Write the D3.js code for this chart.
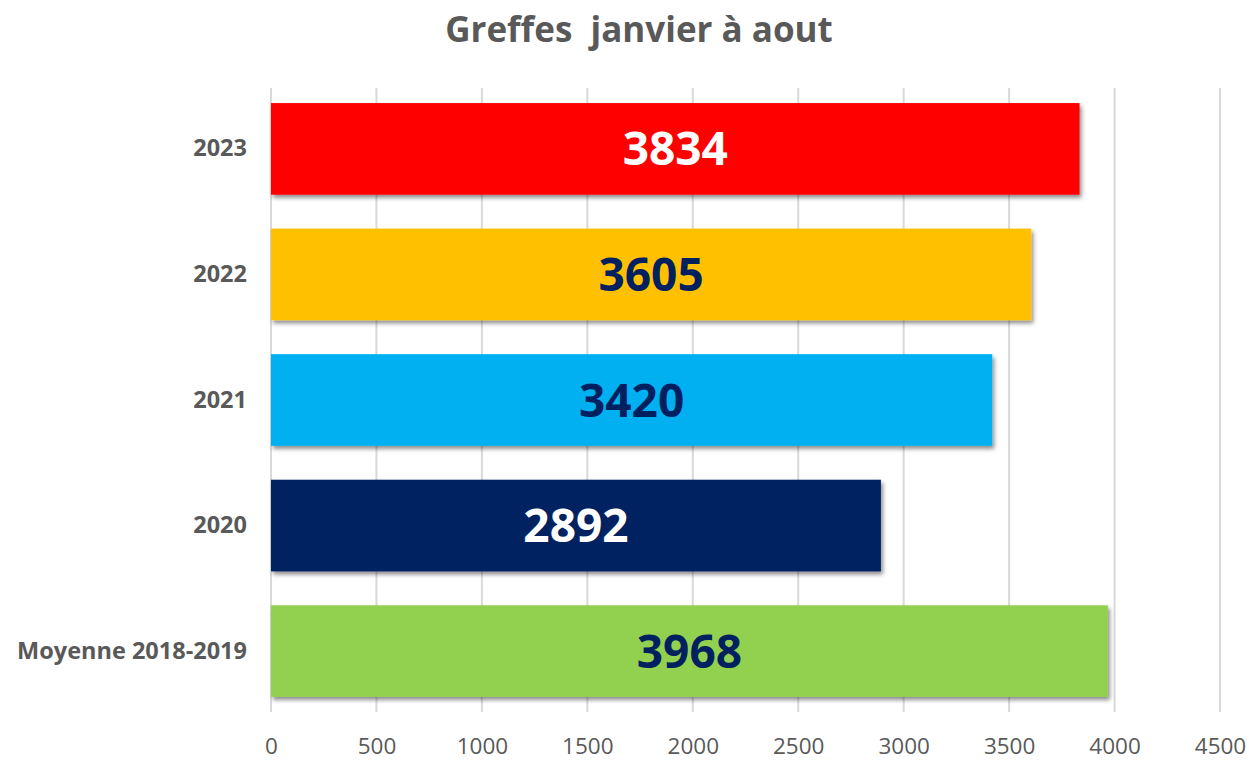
<!DOCTYPE html>
<html><head><meta charset="utf-8">
<script src="https://cdn.jsdelivr.net/npm/d3@7"></script>
<style>html,body{margin:0;padding:0;background:#fff;}</style>
</head><body>
<svg id="c" width="1251" height="760"></svg>
<script>
const categories = ["2023", "2022", "2021", "2020", "Moyenne 2018-2019"];
const values = [3834, 3605, 3420, 2892, 3968];
const barColors = ["#FF0000", "#FFC000", "#00B0F0", "#002060", "#92D050"];
const labelColors = ["#FFFFFF", "#002060", "#002060", "#FFFFFF", "#002060"];
const xTicks = [0, 500, 1000, 1500, 2000, 2500, 3000, 3500, 4000, 4500];
const title = "Greffes  janvier à aout";

(function () {
const svg = d3.select("#c");
const pLeft = 271, pRight = 1220, pTop = 88, pBottom = 712;
const x = d3.scaleLinear().domain([0, 4500]).range([pLeft, pRight]);
const y = d3.scaleBand().domain(categories).range([pTop, pBottom]).paddingInner(0.27).paddingOuter(0.12);

const defs = svg.append("defs");
const f = defs.append("filter").attr("id", "sh").attr("x", "-10%").attr("y", "-20%").attr("width", "130%").attr("height", "150%");
f.append("feDropShadow").attr("dx", 2).attr("dy", 3).attr("stdDeviation", 2.2).attr("flood-color", "#000").attr("flood-opacity", 0.45);

svg.append("text").attr("x", 639).attr("y", 42).attr("text-anchor", "middle")
  .attr("font-family", "Open Sans").attr("font-weight", "bold").attr("font-size", 35)
  .attr("fill", "#595959").style("white-space", "pre").text(title);

svg.append("g").selectAll("line").data(xTicks).join("line")
  .attr("x1", d => x(d)).attr("x2", d => x(d)).attr("y1", pTop).attr("y2", pBottom)
  .attr("stroke", "#D9D9D9").attr("stroke-width", 2);

const xAxis = d3.axisBottom(x).tickValues(xTicks).tickFormat(d3.format("d")).tickSize(0).tickPadding(0);
const gx = svg.append("g").attr("transform", `translate(0,${pBottom + 42})`).call(xAxis);
gx.select(".domain").remove();
gx.selectAll("text").attr("font-family", "Open Sans").attr("font-size", 22.5).attr("fill", "#595959").attr("dy", 0);

const yAxis = d3.axisLeft(y).tickSize(0).tickPadding(0);
const gy = svg.append("g").attr("transform", `translate(247,0)`).call(yAxis);
gy.select(".domain").remove();
gy.selectAll("text").attr("font-family", "Open Sans").attr("font-weight", "bold").attr("font-size", 23.5).attr("fill", "#595959");

svg.append("g").selectAll("rect").data(values).join("rect")
  .attr("x", x(0)).attr("y", (d, i) => y(categories[i]))
  .attr("width", d => x(d) - x(0)).attr("height", y.bandwidth())
  .attr("fill", (d, i) => barColors[i]).attr("filter", "url(#sh)");

svg.append("g").selectAll("text").data(values).join("text")
  .attr("x", d => (x(0) + x(d)) / 2)
  .attr("y", (d, i) => y(categories[i]) + y.bandwidth() / 2)
  .attr("dy", "0.36em").attr("text-anchor", "middle")
  .attr("font-family", "Open Sans").attr("font-weight", "bold").attr("font-size", 46)
  .attr("fill", (d, i) => labelColors[i]).text(d => d);
})();
</script>
</body></html>
